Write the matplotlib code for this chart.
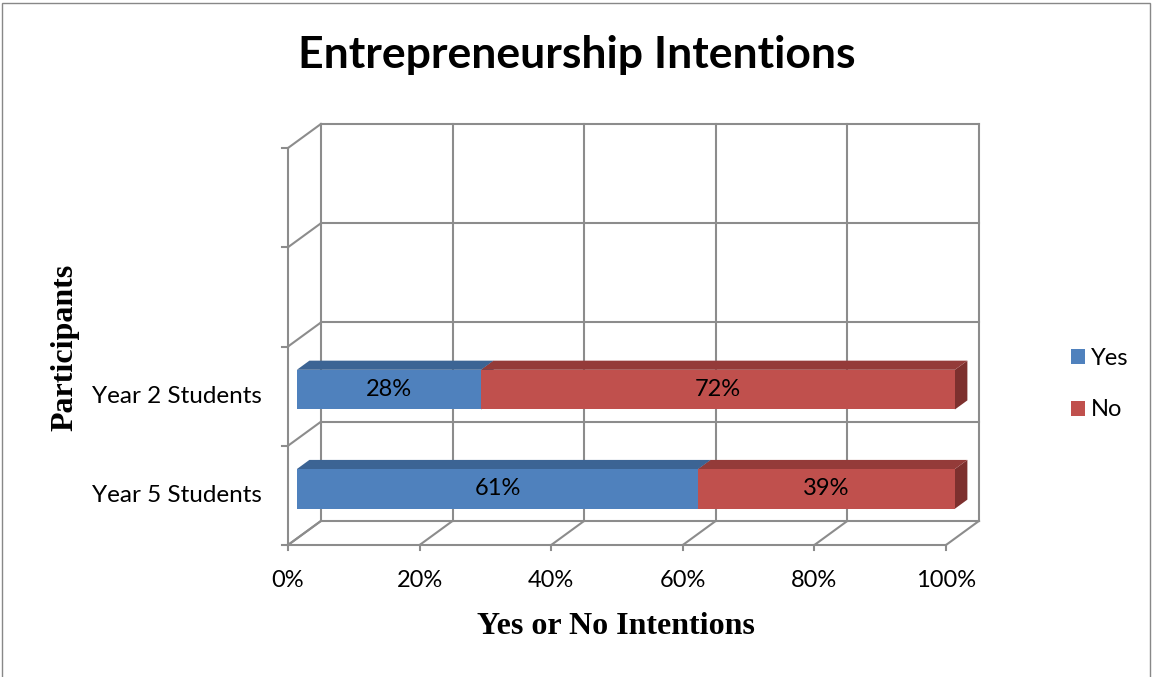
import matplotlib
matplotlib.use('Agg')
import matplotlib.pyplot as plt
from matplotlib.patches import Polygon, Rectangle, Patch

# ---- data ----
categories = ['Year 5 Students', 'Year 2 Students', '', '']
yes_vals = [61, 28]
no_vals = [39, 72]
series_names = ['Yes', 'No']
x_ticks = [0, 20, 40, 60, 80, 100]
x_tick_labels = ['0%', '20%', '40%', '60%', '80%', '100%']
title = 'Entrepreneurship Intentions'
xlabel = 'Yes or No Intentions'
ylabel = 'Participants'

# ---- style ----
W, H = 1152, 677
SANS = ['Lato', 'DejaVu Sans']
SERIF = ['Liberation Serif', 'DejaVu Serif']
front_cols = ['#4F81BD', '#C0504D']
top_cols = ['#3C6494', '#943B39']
side_cols = ['#355A86', '#7D302E']
GRID = '#8C8C8C'

fig = plt.figure(figsize=(W / 100, H / 100), dpi=100)
fig.patch.set_facecolor('white')
ax = fig.add_axes([288 / W, (H - 545) / H, 658 / W, 397 / H])
ncat = len(categories)
ax.set_xlim(0, 100)
ax.set_ylim(0, ncat)
ax.axis('off')

DX, DY = 5.0, 0.242


def P(x, y, d):
    return (x + d * DX, y + d * DY)


def seg(p0, p1, **kw):
    ax.plot([p0[0], p1[0]], [p0[1], p1[1]], color=GRID, lw=1.5,
            clip_on=False, solid_capstyle='projecting', zorder=1, **kw)


# back wall and side wall
for j in range(ncat + 1):
    seg(P(0, j, 1), P(100, j, 1))
    seg(P(0, j, 0), P(0, j, 1))
    seg(P(0, j, 0), P(-0.9, j, 0))  # y tick
for t in x_ticks:
    seg(P(t, 0, 1), P(t, ncat, 1))
    seg(P(t, 0, 0), P(t, 0, 1))
    seg(P(t, 0, 0), P(t, -0.05, 0))  # x tick
# front axis lines
seg(P(0, 0, 0), P(0, ncat, 0))
seg(P(0, 0, 0), P(100, 0, 0))

# bars
d1, d2 = 0.27, 0.65
hh = 0.2
for i in range(len(yes_vals)):
    left = 0
    for s, vals in enumerate([yes_vals, no_vals]):
        v = vals[i]
        x0, x1 = left, left + v
        y0, y1 = i + 0.5 - hh, i + 0.5 + hh
        side = [P(x1, y0, d1), P(x1, y0, d2), P(x1, y1, d2), P(x1, y1, d1)]
        top = [P(x0, y1, d1), P(x1, y1, d1), P(x1, y1, d2), P(x0, y1, d2)]
        front = [P(x0, y0, d1), P(x1, y0, d1), P(x1, y1, d1), P(x0, y1, d1)]
        for poly, c in [(side, side_cols[s]), (top, top_cols[s]), (front, front_cols[s])]:
            ax.add_patch(Polygon(poly, closed=True, facecolor=c, edgecolor='none',
                                 clip_on=False, zorder=3))
        cx, cy = P(left + v / 2, i + 0.5, d1)
        ax.text(cx, cy, f'{v}%', ha='center', va='center', fontsize=17,
                family=SANS, zorder=5)
        left += v

# category labels
for i, c in enumerate(categories):
    if c:
        ax.text(-4.0, i + 0.5, c, ha='right', va='center', fontsize=17.5, family=SANS)
# x tick labels
for t, lab in zip(x_ticks, x_tick_labels):
    ax.text(t, -0.36, lab, ha='center', va='center', fontsize=17, family=SANS)

# titles
fig.text(577 / W, 1 - 55 / H, title, ha='center', va='center', fontsize=32,
         fontweight='bold', family=SANS)
fig.text(616 / W, 1 - 626 / H, xlabel, ha='center', va='center', fontsize=23,
         fontweight='bold', family=SERIF)
fig.text(65 / W, 1 - 347 / H, ylabel, ha='center', va='center', fontsize=23,
         fontweight='bold', family=SERIF, rotation=90)

# legend
handles = [Patch(facecolor=front_cols[k], edgecolor='none') for k in range(2)]
fig.legend(handles, series_names, loc='center left',
           bbox_to_anchor=(1050 / W, 1 - 384 / H), frameon=False,
           prop={'family': SANS, 'size': 17}, handlelength=0.6, handleheight=0.6,
           handletextpad=0.25, labelspacing=1.3)

# outer border
fig.patches.append(Rectangle((2 / W, -0.01), 1 - 4 / W, 1.0 - 2 / H + 0.01 - 1 / H,
                             transform=fig.transFigure, fill=False,
                             edgecolor='#888888', lw=1.0))

fig.savefig('out.png', dpi=100)
